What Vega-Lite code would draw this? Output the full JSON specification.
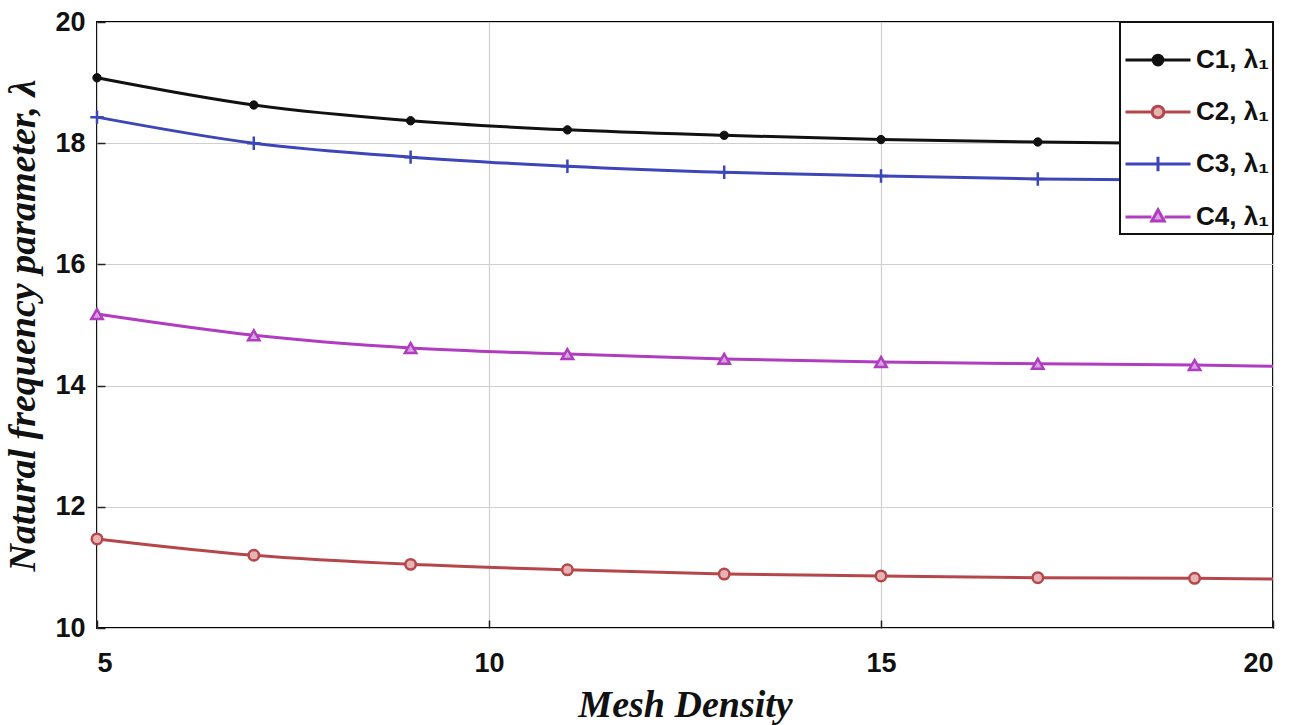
{
  "$schema": "https://vega.github.io/schema/vega-lite/v6.json",
  "width": 1176,
  "height": 606,
  "autosize": "none",
  "padding": {"left": 97, "top": 22, "right": 33, "bottom": 97},
  "background": "white",
  "config": {
    "view": {"stroke": "#000000", "strokeWidth": 2},
    "axis": {
      "grid": true,
      "gridColor": "#cfcfcf",
      "gridWidth": 1.2,
      "domain": false,
      "ticks": true,
      "tickSize": -8,
      "tickColor": "#222222",
      "tickWidth": 1.5,
      "labelFont": "Liberation Sans",
      "labelFontWeight": "bold",
      "labelFontSize": 27,
      "labelColor": "#111111",
      "titleFont": "Liberation Serif",
      "titleFontStyle": "italic",
      "titleFontWeight": "bold",
      "titleFontSize": 38,
      "titleColor": "#111111"
    }
  },
  "data": {
    "values": [
      {"x": 5, "y": 19.08, "series": "C1, λ₁"},
      {"x": 7, "y": 18.63, "series": "C1, λ₁"},
      {"x": 9, "y": 18.37, "series": "C1, λ₁"},
      {"x": 11, "y": 18.22, "series": "C1, λ₁"},
      {"x": 13, "y": 18.13, "series": "C1, λ₁"},
      {"x": 15, "y": 18.06, "series": "C1, λ₁"},
      {"x": 17, "y": 18.02, "series": "C1, λ₁"},
      {"x": 19, "y": 17.99, "series": "C1, λ₁"},
      {"x": 20, "y": 17.98, "series": "C1, λ₁"},
      {"x": 5, "y": 11.47, "series": "C2, λ₁"},
      {"x": 7, "y": 11.2, "series": "C2, λ₁"},
      {"x": 9, "y": 11.05, "series": "C2, λ₁"},
      {"x": 11, "y": 10.96, "series": "C2, λ₁"},
      {"x": 13, "y": 10.89, "series": "C2, λ₁"},
      {"x": 15, "y": 10.86, "series": "C2, λ₁"},
      {"x": 17, "y": 10.83, "series": "C2, λ₁"},
      {"x": 19, "y": 10.82, "series": "C2, λ₁"},
      {"x": 20, "y": 10.81, "series": "C2, λ₁"},
      {"x": 5, "y": 18.43, "series": "C3, λ₁"},
      {"x": 7, "y": 18.0, "series": "C3, λ₁"},
      {"x": 9, "y": 17.77, "series": "C3, λ₁"},
      {"x": 11, "y": 17.62, "series": "C3, λ₁"},
      {"x": 13, "y": 17.52, "series": "C3, λ₁"},
      {"x": 15, "y": 17.46, "series": "C3, λ₁"},
      {"x": 17, "y": 17.41, "series": "C3, λ₁"},
      {"x": 19, "y": 17.39, "series": "C3, λ₁"},
      {"x": 20, "y": 17.38, "series": "C3, λ₁"},
      {"x": 5, "y": 15.18, "series": "C4, λ₁"},
      {"x": 7, "y": 14.83, "series": "C4, λ₁"},
      {"x": 9, "y": 14.62, "series": "C4, λ₁"},
      {"x": 11, "y": 14.52, "series": "C4, λ₁"},
      {"x": 13, "y": 14.44, "series": "C4, λ₁"},
      {"x": 15, "y": 14.39, "series": "C4, λ₁"},
      {"x": 17, "y": 14.36, "series": "C4, λ₁"},
      {"x": 19, "y": 14.34, "series": "C4, λ₁"},
      {"x": 20, "y": 14.32, "series": "C4, λ₁"}
    ]
  },
  "encoding": {
    "x": {
      "field": "x", "type": "quantitative",
      "scale": {"domain": [5, 20], "nice": false, "zero": false},
      "axis": {"values": [5, 10, 15, 20], "title": "Mesh Density", "labelPadding": 30, "titlePadding": 10}
    },
    "y": {
      "field": "y", "type": "quantitative",
      "scale": {"domain": [10, 20], "nice": false, "zero": false},
      "axis": {"values": [10, 12, 14, 16, 18, 20], "title": "Natural frequency parameter, λ", "labelPadding": 20, "titlePadding": 12}
    }
  },
  "layer": [
    {
      "mark": {"type": "line", "strokeWidth": 3, "interpolate": "monotone"},
      "encoding": {
        "stroke": {
          "field": "series", "type": "nominal",
          "scale": {"domain": ["C1, λ₁", "C2, λ₁", "C3, λ₁", "C4, λ₁"], "range": ["#111111", "#b5474b", "#3c46b8", "#b03cc0"]},
          "legend": {
            "title": null,
            "orient": "top-right",
            "offset": 0,
            "fillColor": "white",
            "strokeColor": "#111111",
            "padding": 4,
            "symbolType": "stroke",
            "symbolSize": 4225,
            "symbolStrokeWidth": 3,
            "labelFont": "Liberation Sans",
            "labelFontWeight": "bold",
            "labelFontSize": 26,
            "labelColor": "#111111",
            "labelOffset": 4,
            "rowPadding": 5,
            "encode": {
              "legend": {"update": {"strokeWidth": {"value": 2}}},
              "symbols": {
                "update": {
                  "shape": {"signal": "datum.index === 0 ? 'M-1,0H1M0.15,0A0.15,0.15 0 1,1 -0.15,0A0.15,0.15 0 1,1 0.15,0Z' : datum.index === 1 ? 'M-1,0H-0.18M0.18,0H1M0.18,0A0.18,0.18 0 1,1 -0.18,0A0.18,0.18 0 1,1 0.18,0Z' : datum.index === 2 ? 'M-1,0H1M0,-0.22V0.22' : 'M-1,0H-0.2M0.2,0H1M0,-0.22L0.19,0.12L-0.19,0.12Z'"},
                  "fill": {"signal": "datum.index === 0 ? '#111111' : datum.index === 1 ? '#e6b3b5' : datum.index === 2 ? 'transparent' : '#d7a3e0'"},
                  "strokeWidth": {"value": 3}
                }
              }
            }
          }
        }
      }
    },
    {
      "transform": [{"filter": "datum.x <= 19 && datum.series === 'C1, λ₁'"}],
      "mark": {"type": "point", "shape": "circle", "size": 70, "filled": true, "fill": "#111111", "stroke": "#111111", "strokeWidth": 1, "opacity": 1}
    },
    {
      "transform": [{"filter": "datum.x <= 19 && datum.series === 'C2, λ₁'"}],
      "mark": {"type": "point", "shape": "circle", "size": 110, "filled": true, "fill": "#e6b3b5", "stroke": "#b5474b", "strokeWidth": 2.5, "opacity": 1}
    },
    {
      "transform": [{"filter": "datum.x <= 19 && datum.series === 'C3, λ₁'"}],
      "mark": {"type": "point", "shape": "M-1,0H1M0,-1V1", "size": 180, "filled": false, "stroke": "#3c46b8", "strokeWidth": 2.5, "opacity": 1}
    },
    {
      "transform": [{"filter": "datum.x <= 19 && datum.series === 'C4, λ₁'"}],
      "mark": {"type": "point", "shape": "triangle-up", "size": 130, "filled": true, "fill": "#d7a3e0", "stroke": "#b03cc0", "strokeWidth": 2.5, "opacity": 1}
    }
  ]
}
